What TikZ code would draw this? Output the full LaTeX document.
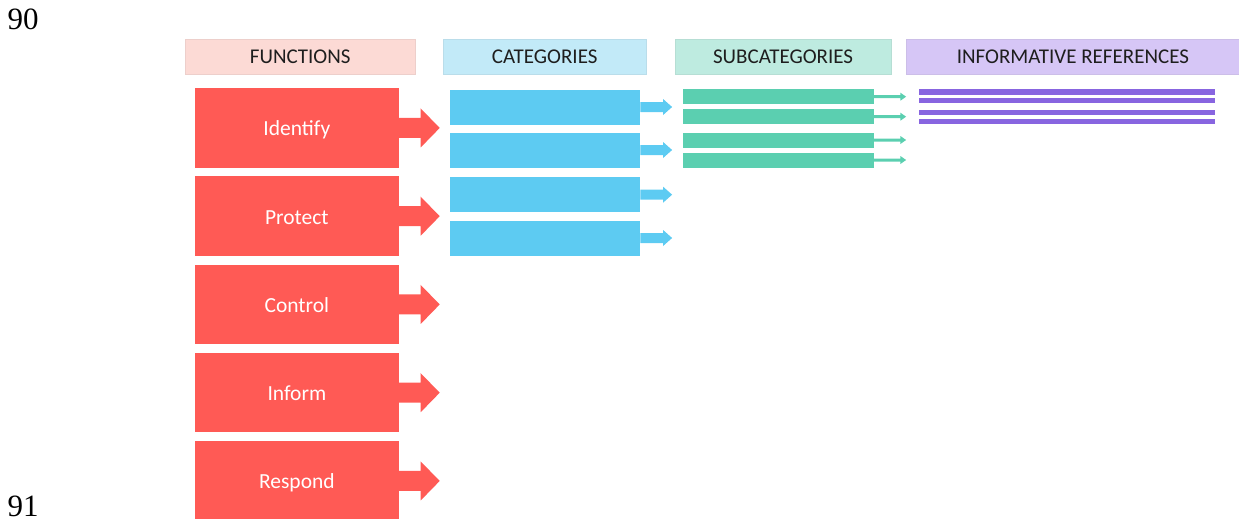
\documentclass[tikz,border=0pt]{standalone}
\usepackage{fontspec}
\setmainfont{Carlito}
\newfontfamily\numfont{Liberation Serif}
\usetikzlibrary{calc}
\definecolor{hfun}{HTML}{FCDAD5}
\definecolor{hcat}{HTML}{C2EAF8}
\definecolor{hsub}{HTML}{BEEBE0}
\definecolor{hinf}{HTML}{D6C6F6}
\definecolor{cfun}{HTML}{FF5A55}
\definecolor{ccat}{HTML}{5DCBF2}
\definecolor{csub}{HTML}{5BCFB0}
\definecolor{cinf}{HTML}{8865E0}
\definecolor{htext}{HTML}{1E1E1E}
\begin{document}
\begin{tikzpicture}[x=1pt,y=-1pt,
  hdr/.style={anchor=north west, inner sep=0pt, minimum height=34.7pt,
    draw=#1!88!gray, line width=0.4pt, fill=#1, text=htext,
    text height=13.5pt, text depth=0pt,
    font=\fontsize{21}{25}\selectfont},
  funbox/.style={anchor=north west, inner sep=0pt, minimum width=203.3pt,
    minimum height=79.5pt, fill=cfun, text=white,
    text height=15.8pt, text depth=0pt,
    font=\fontsize{21.5}{26}\selectfont},
  catbox/.style={anchor=north west, inner sep=0pt, minimum width=190.7pt,
    minimum height=35pt, fill=ccat},
  subbox/.style={anchor=north west, inner sep=0pt, minimum width=190.6pt,
    minimum height=15pt, fill=csub},
  infbar/.style={anchor=north west, inner sep=0pt, minimum width=296.7pt,
    minimum height=5.5pt, fill=cinf},
  numlabel/.style={anchor=base west, inner sep=0pt,
    font=\numfont\fontsize{31}{36}\selectfont}
]
\useasboundingbox (0,0) rectangle (1239,519);
\clip (0,0) rectangle (1239,519);

% page numbers
\node[numlabel] (n90) at (7.5,29.3) {90};
\node[numlabel] (n91) at (7.5,516.8) {91};

% headers
\node[hdr=hfun, minimum width=230pt] (hf) at (185,39.3) {FUNCTIONS};
\node[hdr=hcat, minimum width=203pt] (hc) at (443,39.3) {CATEGORIES};
\node[hdr=hsub, minimum width=215.7pt] (hs) at (675,39.3) {SUBCATEGORIES};
\node[hdr=hinf, minimum width=334pt] (hi) at (905.7,39.3) {INFORMATIVE REFERENCES};

% functions
\foreach \lab [count=\i] in {Identify,Protect,Control,Inform,Respond}{
  \node[funbox] (f\i) at (195,{88+88.25*(\i-1)}) {\lab};
  \fill[cfun] ($(f\i.east)+(0,-10)$) -- ++(22,0) -- ++(0,-9.5)
     -- ++(19,19.5) -- ++(-19,19.5) -- ++(0,-9.5) -- ++(-22,0) -- cycle;
}

% categories
\foreach \t [count=\i] in {89.3,132.3,177,220.3}{
  \node[catbox] (c\i) at (449.3,\t) {};
  \fill[ccat] ($(c\i.east)+(0,-5)$) -- ++(22.7,0) -- ++(0,-3)
     -- ++(9,8) -- ++(-9,8) -- ++(0,-3) -- ++(-22.7,0) -- cycle;
}

% subcategories
\foreach \t [count=\i] in {89,109,132.3,152.3}{
  \node[subbox] (s\i) at (682.7,\t) {};
  \fill[csub] ($(s\i.east)+(0,-1.5)$) -- ++(26.7,0) -- ++(0,-2.5)
     -- ++(5.7,4) -- ++(-5.7,4) -- ++(0,-2.5) -- ++(-26.7,0) -- cycle;
}

% informative references
\foreach \t [count=\i] in {89,97.7,109.3,118.3}{
  \node[infbar] (r\i) at (918.3,\t) {};
}
\end{tikzpicture}
\end{document}
